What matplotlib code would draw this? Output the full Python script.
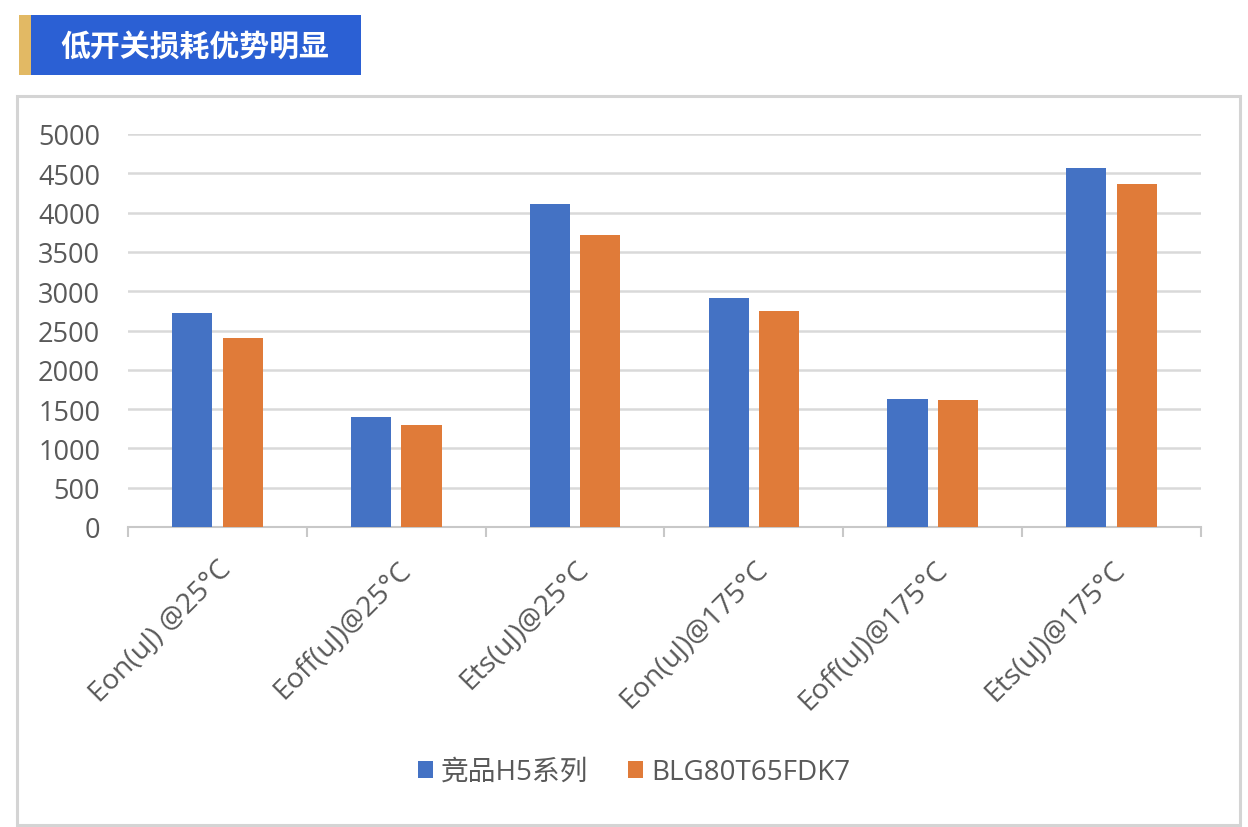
import numpy as np
import matplotlib
matplotlib.use("Agg")
import matplotlib.pyplot as plt
from matplotlib.patches import Rectangle

plt.rcParams['font.family'] = ['Open Sans', 'Noto Sans CJK SC', 'DejaVu Sans']

categories = ["Eon(uJ) @25°C", "Eoff(uJ)@25°C", "Ets(uJ)@25°C",
              "Eon(uJ)@175°C", "Eoff(uJ)@175°C", "Ets(uJ)@175°C"]
series_names = ["竞品H5系列", "BLG80T65FDK7"]
rival_h5 = [2720, 1400, 4110, 2910, 1630, 4570]
blg80 = [2410, 1300, 3710, 2750, 1610, 4360]
yticks = [0, 500, 1000, 1500, 2000, 2500, 3000, 3500, 4000, 4500, 5000]

BLUE = '#4472C4'
ORANGE = '#E07B39'
GRAY_TXT = '#595959'
GRID = '#d9d9d9'

W, H = 1248, 828
fig = plt.figure(figsize=(W / 100, H / 100), dpi=100)
fig.patch.set_facecolor('white')

# outer frame of the chart
fig.patches.append(Rectangle((17 / W, 1 - 826 / H), (1240 - 17) / W, (826 - 97) / H,
                             transform=fig.transFigure, facecolor='none',
                             edgecolor='#d4d4d4', lw=2.2))
# title banner
fig.patches.append(Rectangle((19 / W, 1 - 76 / H), 12 / W, 60 / H,
                             transform=fig.transFigure, facecolor='#E2B964',
                             edgecolor='none'))
fig.patches.append(Rectangle((31 / W, 1 - 76 / H), 330 / W, 60 / H,
                             transform=fig.transFigure, facecolor='#2B60D4',
                             edgecolor='none'))
fig.text(195 / W, 1 - 47 / H, "低开关损耗优势明显", color='white', fontsize=21.5,
         fontweight='heavy', ha='center', va='center',
         family=['Noto Sans CJK SC', 'DejaVu Sans'])

ax = fig.add_axes([128 / W, 1 - 528 / H, (1201 - 128) / W, (528 - 135) / H])
x = np.arange(len(categories))
bw = 0.225
off = 0.141
ax.bar(x - off, rival_h5, width=bw, color=BLUE, label=series_names[0], zorder=3)
ax.bar(x + off, blg80, width=bw, color=ORANGE, label=series_names[1], zorder=3)

ax.set_xlim(-0.5, len(categories) - 0.5)
ax.set_ylim(0, 5000)
ax.set_yticks(yticks)
ax.yaxis.grid(True, color=GRID, lw=1.8, zorder=0)
ax.set_axisbelow(True)
for s in ['top', 'right', 'left']:
    ax.spines[s].set_visible(False)
ax.spines['bottom'].set_color('#c8c8c8')
ax.spines['bottom'].set_linewidth(1.5)
ax.tick_params(axis='y', length=0, pad=20, labelsize=19.5, labelcolor=GRAY_TXT)

ax.set_xticks(x)
ax.set_xticklabels(categories, rotation=45, ha='right', va='top',
                   rotation_mode='anchor', fontsize=20.5, color=GRAY_TXT)
ax.tick_params(axis='x', which='major', length=0, pad=20)
ax.set_xticks(np.arange(-0.5, len(categories)), minor=True)
ax.tick_params(axis='x', which='minor', length=7, width=1.5, color='#c8c8c8')

handles, labels = ax.get_legend_handles_labels()
fig.legend(handles, labels, loc='center', bbox_to_anchor=(634 / W, 1 - 773 / H),
           ncol=2, frameon=False, fontsize=20, labelcolor=GRAY_TXT,
           handlelength=0.55, handleheight=0.55, handletextpad=0.3,
           columnspacing=1.4)

fig.savefig("out.png", dpi=100)
